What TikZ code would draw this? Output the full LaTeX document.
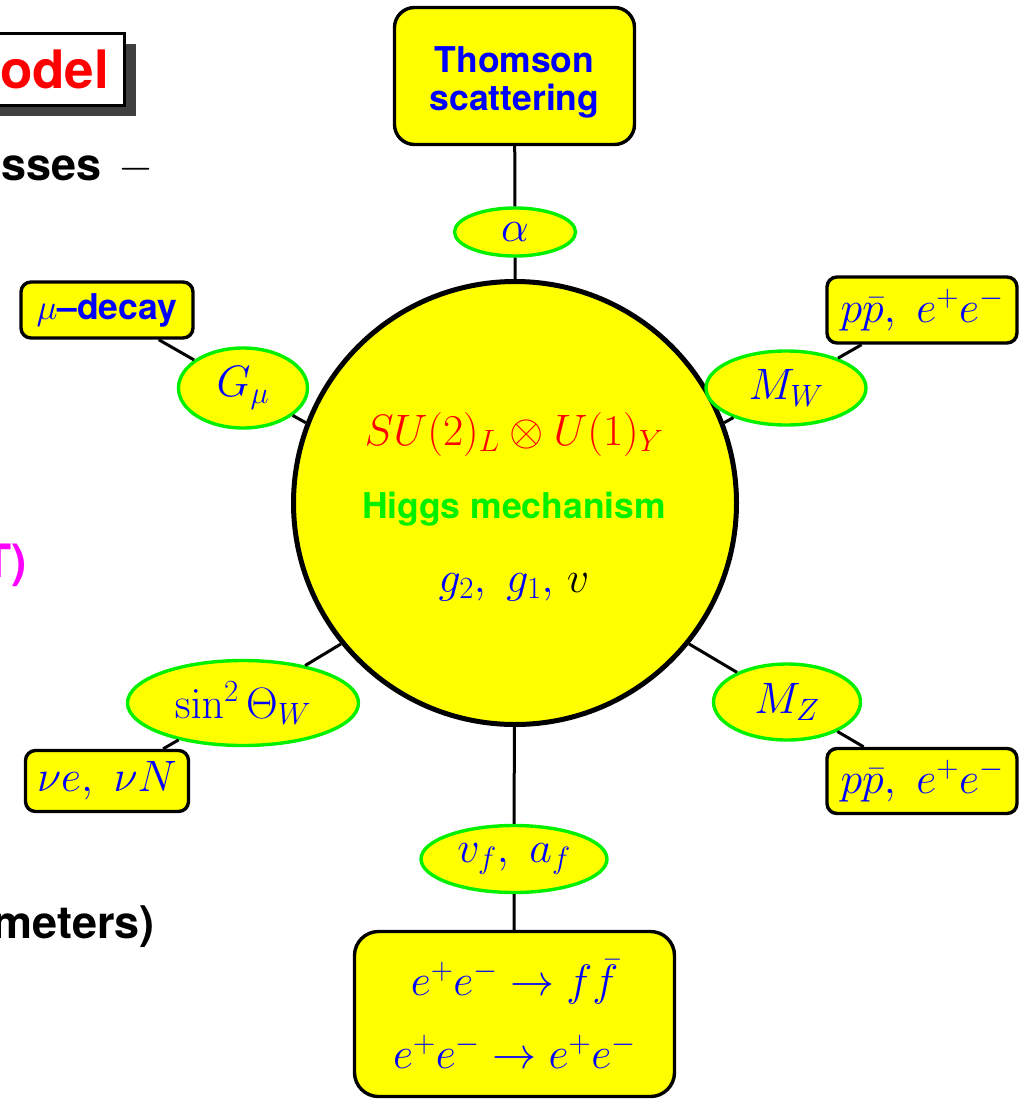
\RequirePackage{fix-cm}
\documentclass[tikz,border=0pt]{standalone}
\usepackage[no-math]{fontspec}
\newfontfamily\heros{TeX Gyre Heros}
\usetikzlibrary{shapes.geometric,shadows}
\definecolor{hyellow}{RGB}{255,255,0}
\definecolor{hblue}{RGB}{0,0,255}
\definecolor{hgreen}{RGB}{0,240,0}
\definecolor{hred}{RGB}{255,0,0}
\definecolor{hmagenta}{RGB}{255,0,255}
\begin{document}
\begin{tikzpicture}[x=1pt, y=-1pt,
  parambox/.style={draw, line width=3.4pt, fill=hyellow, text=hblue, rounded corners=10pt, inner sep=0pt},
  paramell/.style={ellipse, draw=hgreen, line width=3.4pt, fill=hyellow, text=hblue, inner sep=0pt},
  link/.style={line width=3pt},
  mathbig/.style={font=\fontsize{44}{52}\selectfont},
  slide/.style={font=\heros\bfseries\fontsize{35.5}{38}\selectfont},
  slidebig/.style={font=\heros\bfseries\fontsize{45}{50}\selectfont}]
\useasboundingbox (0,0) rectangle (1030,1100);
% what is left of the slide on the left
\node[draw, line width=3.4pt, fill=white, text=hred, anchor=east, minimum height=72pt, inner xsep=15.5pt, outer sep=0pt,
  font=\heros\bfseries\fontsize{53}{60}\selectfont,
  drop shadow={shadow xshift=11pt, shadow yshift=-10pt, fill=black!75, opacity=1}] (title) at (124.5,69.5) {odel};
\node[anchor=base east, inner sep=0pt, slidebig] (sses) at (154,180) {sses\hspace{17pt}$-$};
\node[anchor=base east, inner sep=0pt, text=hmagenta, font=\heros\bfseries\fontsize{46}{50}\selectfont] (tpar) at (27,577) {T)};
\node[anchor=base east, inner sep=0pt, slidebig] (meters) at (155,938) {meters)};
% the model in the middle
\node[circle, draw, line width=5pt, fill=hyellow, minimum size=443pt, inner sep=0pt] (higgs) at (515,503) {};
\node[anchor=base, text=hred, mathbig] (gauge) at (514,445) {$SU(2)_L\otimes U(1)_Y$};
\node[anchor=base, text=hgreen, slide] (mech) at (514,518) {Higgs mechanism};
\node[anchor=base, text=hblue, mathbig] (coupl) at (514,592) {$g_2,\ g_1,$ \textcolor{black}{$v$}};
% parameters and where they are measured
\node[parambox, minimum width=240pt, minimum height=137pt, rounded corners=20pt, slide, align=center] (thomson) at (514.5,76) {Thomson\rule{0pt}{39pt}\\scattering};
\node[paramell, minimum width=121pt, minimum height=48pt, mathbig] (alpha) at (515,232) {$\alpha$};
\node[parambox, minimum width=172pt, minimum height=56pt, slide] (mudecay) at (107,310) {$\mu$–decay};
\node[paramell, minimum width=129pt, minimum height=80pt, mathbig] (gmu) at (243,388) {$G_\mu$};
\node[parambox, minimum width=190pt, minimum height=66pt, mathbig] (ppw) at (922,310) {$p\bar{p},\ e^+e^-$};
\node[paramell, minimum width=160pt, minimum height=74pt, mathbig] (mw) at (786,388) {$M_W$};
\node[paramell, minimum width=147pt, minimum height=76pt, mathbig] (mz) at (787,702) {$M_Z$};
\node[parambox, minimum width=190pt, minimum height=65pt, mathbig] (ppz) at (922,781) {$p\bar{p},\ e^+e^-$};
\node[paramell, minimum width=231pt, minimum height=85pt, mathbig] (sinw) at (243,703) {$\sin^2\Theta_W$};
\node[parambox, minimum width=163pt, minimum height=61pt, mathbig] (nuscat) at (107,781) {$\nu e,\ \nu N$};
\node[paramell, minimum width=186pt, minimum height=67pt, mathbig] (vfaf) at (514,859) {$v_f,\ a_f$};
\node[parambox, minimum width=320pt, minimum height=165pt, rounded corners=24pt, align=center,
  font=\fontsize{44}{73}\selectfont] (eeproc) at (514.5,1014) {$e^+e^-\to f\bar{f}$\\$e^+e^-\to e^+e^-$};
% spokes
\draw[link] (thomson) -- (alpha) -- (higgs);
\draw[link] (mudecay) -- (gmu) -- (higgs.159);
\draw[link] (ppw) -- (mw) -- (higgs.21);
\draw[link] (ppz) -- (mz) -- (higgs.-39);
\draw[link] (nuscat) -- (sinw) -- (higgs.219);
\draw[link] (higgs) -- (vfaf) -- (eeproc);
\end{tikzpicture}
\end{document}
